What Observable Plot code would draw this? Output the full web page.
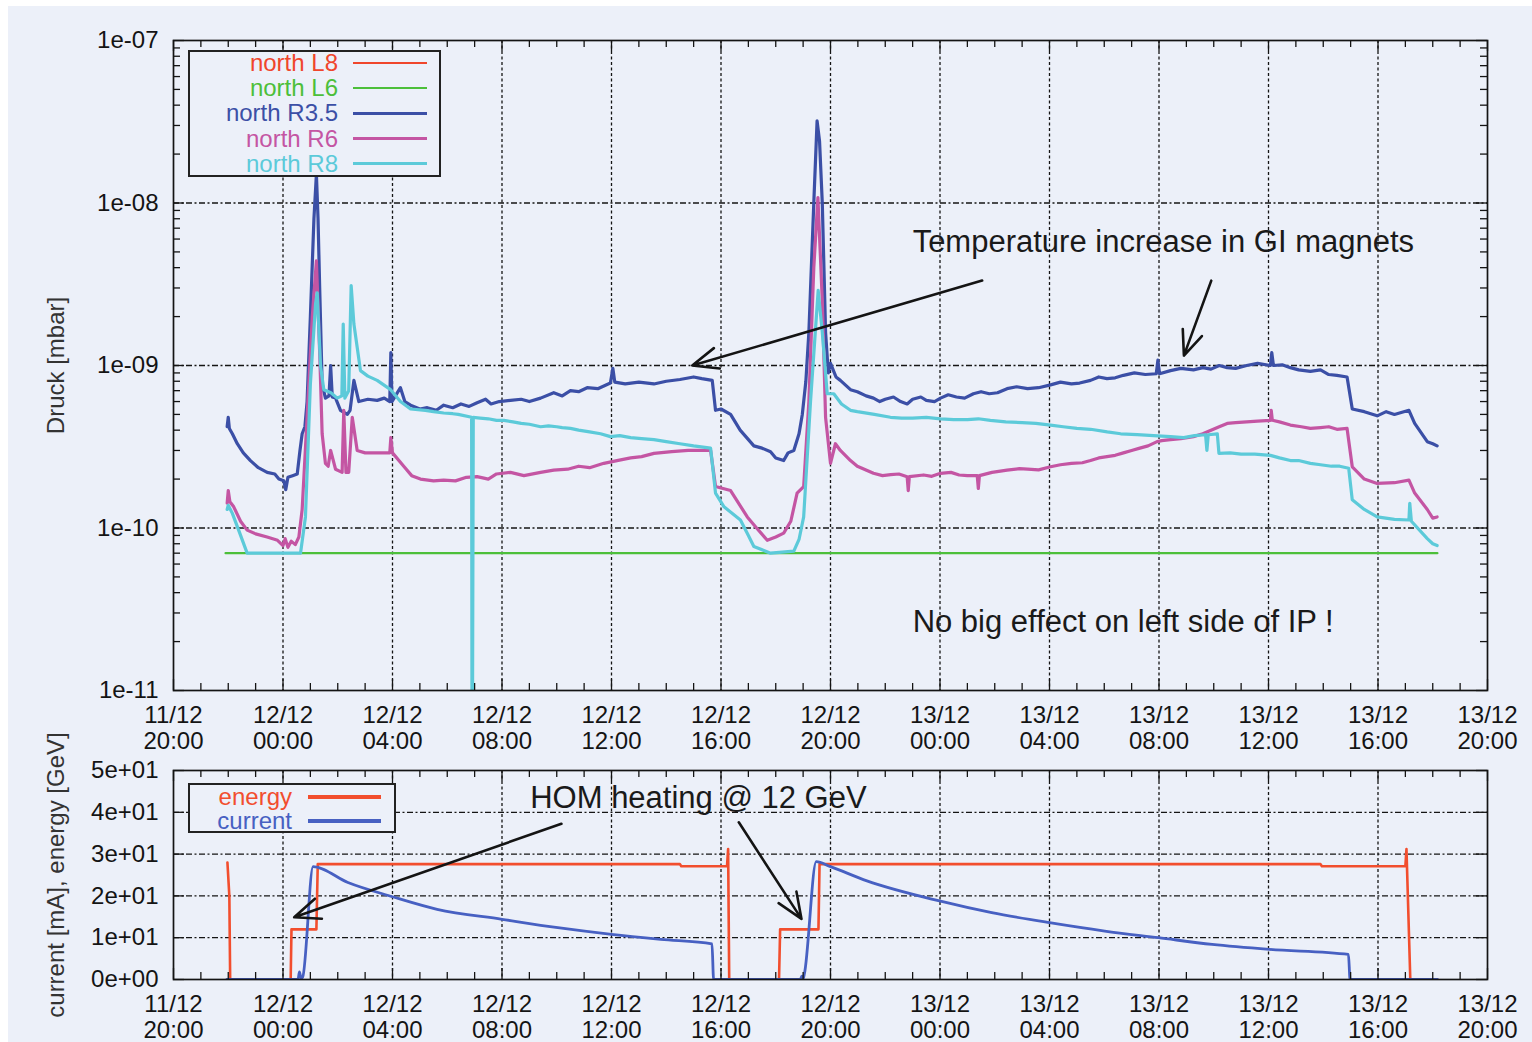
<!DOCTYPE html>
<html>
<head>
<meta charset="utf-8">
<script src="https://cdn.jsdelivr.net/npm/d3@7"></script>
<script src="https://cdn.jsdelivr.net/npm/@observablehq/plot@0.6"></script>
<style>
  html, body { margin: 0; padding: 0; background: #ffffff; }
  #page { position: relative; width: 1532px; height: 1042px; overflow: hidden; background: #ffffff;
          font-family: "Liberation Sans", Arial, Helvetica, sans-serif; }
  #panel { position: absolute; left: 8px; top: 6px; width: 1524px; height: 1036px; background: #ecf0f9; }
  #page svg { position: absolute; left: 0; overflow: visible; }
  .legend { position: absolute; border: 2px solid #222; box-sizing: border-box; background: #ecf0f9; }
  .legend .lab { position: absolute; text-align: right; font-size: 24px; line-height: 26px; height: 26px; white-space: nowrap; }
  .legend .smp { position: absolute; }
</style>
</head>
<body>
<div id="page"><div id="panel"></div></div>
<script>
// ---------------- data (hours after 11/12 20:00, value) ----------------
// north L8 is not visible in the picture (hidden under / below L6): legend entry only
const seriesNames = ["north L8", "north L6", "north R3.5", "north R6", "north R8"];
const seriesColors = ["#f0462c", "#4cbf3a", "#3b4fa6", "#c455a3", "#5ccad9"];

const northL6 = [[1.9, 7e-11], [46.17, 7e-11]];

const northR35 = [
  [1.96,4.2e-10],[2.00,4.8e-10],[2.04,4.1e-10],[2.15,3.8e-10],[2.33,3.3e-10],[2.55,2.9e-10],[2.81,2.6e-10],
  [3.10,2.35e-10],[3.42,2.2e-10],[3.70,2.15e-10],[3.85,2.0e-10],[4.03,1.95e-10],[4.10,1.72e-10],[4.18,2.05e-10],
  [4.35,2.1e-10],[4.52,2.15e-10],[4.62,3.0e-10],[4.70,3.8e-10],[4.80,4.2e-10],[4.88,6.0e-10],[5.00,2.0e-9],
  [5.13,8.0e-9],[5.22,1.5e-8],[5.28,8e-9],[5.34,3.0e-9],[5.43,7.7e-10],[5.55,6.3e-10],[5.68,6.5e-10],[5.74,1.0e-9],
  [5.80,6.4e-10],[5.92,6.3e-10],[6.10,5.3e-10],[6.35,5.0e-10],[6.45,5.3e-10],[6.59,8.1e-10],[6.77,6.0e-10],
  [7.10,6.2e-10],[7.44,6.1e-10],[7.70,6.3e-10],[7.90,6.0e-10],[7.94,1.2e-9],[7.98,6.0e-10],[8.29,7.3e-10],
  [8.45,6.0e-10],[8.66,5.7e-10],[9.00,5.4e-10],[9.27,5.5e-10],[9.60,5.3e-10],[9.87,5.7e-10],[10.20,5.5e-10],
  [10.50,5.8e-10],[10.80,5.6e-10],[11.09,5.9e-10],[11.40,6.2e-10],[11.60,5.8e-10],[11.90,6.0e-10],[12.31,6.1e-10],
  [12.70,6.2e-10],[13.00,6.0e-10],[13.41,6.3e-10],[13.89,6.8e-10],[14.20,6.5e-10],[14.50,7.0e-10],[14.80,6.9e-10],
  [15.11,7.3e-10],[15.50,7.2e-10],[15.96,7.8e-10],[16.05,9.6e-10],[16.12,7.9e-10],[16.50,7.7e-10],[17.00,7.9e-10],
  [17.55,7.7e-10],[18.00,8.0e-10],[18.50,8.2e-10],[19.00,8.5e-10],[19.30,8.3e-10],[19.68,8.1e-10],[19.80,5.3e-10],
  [20.00,5.4e-10],[20.35,5.0e-10],[20.70,4.0e-10],[21.20,3.2e-10],[21.50,3.1e-10],[21.81,2.95e-10],[22.00,2.7e-10],
  [22.29,2.6e-10],[22.45,2.9e-10],[22.66,3.0e-10],[22.85,3.8e-10],[22.97,5.0e-10],[23.10,8.0e-10],[23.21,1.6e-9],
  [23.39,1.0e-8],[23.51,3.2e-8],[23.60,2.4e-8],[23.70,1.0e-8],[23.82,1.6e-9],[23.92,9.0e-10],[24.00,1.03e-9],
  [24.20,8.5e-10],[24.36,8.1e-10],[24.73,7.1e-10],[24.98,6.9e-10],[25.30,6.5e-10],[25.57,6.3e-10],[25.80,6.0e-10],
  [26.00,6.2e-10],[26.30,6.4e-10],[26.56,6.0e-10],[26.80,5.8e-10],[27.00,6.2e-10],[27.30,6.4e-10],[27.50,6.1e-10],
  [27.80,6.0e-10],[28.02,6.3e-10],[28.30,6.6e-10],[28.60,6.4e-10],[28.90,6.3e-10],[29.22,6.7e-10],[29.50,6.9e-10],
  [29.80,6.7e-10],[30.10,6.8e-10],[30.45,7.2e-10],[30.80,7.4e-10],[31.20,7.2e-10],[31.60,7.3e-10],[32.04,7.6e-10],
  [32.40,7.9e-10],[32.80,7.7e-10],[33.10,7.8e-10],[33.50,8.1e-10],[33.80,8.5e-10],[34.10,8.3e-10],[34.40,8.4e-10],
  [34.70,8.7e-10],[35.10,9.0e-10],[35.50,8.8e-10],[35.90,8.9e-10],[35.96,1.08e-9],[36.02,8.9e-10],[36.42,9.3e-10],
  [36.80,9.6e-10],[37.26,9.4e-10],[37.60,9.7e-10],[37.90,9.5e-10],[38.20,1.0e-9],[38.49,9.7e-10],[38.80,9.6e-10],
  [39.20,1.0e-9],[39.60,1.03e-9],[40.07,1.0e-9],[40.12,1.2e-9],[40.18,1.0e-9],[40.50,1.01e-9],[40.80,9.7e-10],
  [41.10,9.4e-10],[41.53,9.2e-10],[41.90,9.4e-10],[42.20,8.8e-10],[42.50,8.7e-10],[42.87,8.5e-10],[43.06,5.4e-10],
  [43.50,5.2e-10],[43.97,4.9e-10],[44.30,5.2e-10],[44.60,5.0e-10],[45.13,5.3e-10],[45.34,4.4e-10],[45.80,3.4e-10],
  [46.00,3.3e-10],[46.16,3.2e-10]
];

const northR6 = [
  [1.96,1.42e-10],[2.00,1.7e-10],[2.06,1.45e-10],[2.20,1.35e-10],[2.45,1.1e-10],[2.69,9.7e-11],[3.00,9.2e-11],
  [3.42,8.8e-11],[3.80,8.4e-11],[4.00,7.8e-11],[4.08,8.6e-11],[4.18,7.6e-11],[4.30,8.3e-11],[4.45,7.9e-11],
  [4.58,8.8e-11],[4.70,1.3e-10],[4.88,4.8e-10],[5.07,2.0e-9],[5.22,4.4e-9],[5.34,1.2e-9],[5.43,3.8e-10],
  [5.55,2.5e-10],[5.65,2.4e-10],[5.74,3.0e-10],[5.92,2.3e-10],[6.16,2.2e-10],[6.22,5.3e-10],[6.30,2.2e-10],
  [6.40,2.2e-10],[6.53,4.8e-10],[6.71,3.0e-10],[7.00,2.9e-10],[7.44,2.9e-10],[7.90,2.9e-10],[7.94,3.6e-10],
  [8.00,2.9e-10],[8.41,2.4e-10],[8.70,2.1e-10],[9.02,2.0e-10],[9.50,1.95e-10],[9.87,1.97e-10],[10.30,1.95e-10],
  [10.70,2.05e-10],[11.09,2.07e-10],[11.50,2.0e-10],[11.80,2.15e-10],[12.31,2.2e-10],[12.80,2.1e-10],[13.41,2.2e-10],
  [13.89,2.27e-10],[14.40,2.3e-10],[14.80,2.4e-10],[15.20,2.35e-10],[15.72,2.5e-10],[16.20,2.6e-10],[16.70,2.7e-10],
  [17.10,2.75e-10],[17.55,2.88e-10],[18.20,2.95e-10],[18.80,3.0e-10],[19.62,3.0e-10],[19.80,1.8e-10],[20.35,1.7e-10],
  [20.96,1.17e-10],[21.30,1.0e-10],[21.69,8.4e-11],[22.00,8.8e-11],[22.29,9.3e-11],[22.55,1.1e-10],[22.78,1.64e-10],
  [23.02,1.8e-10],[23.21,6.0e-10],[23.39,4.0e-9],[23.54,1.08e-8],[23.70,2.5e-9],[23.82,4.8e-10],[24.00,2.5e-10],
  [24.18,3.3e-10],[24.36,3.0e-10],[24.73,2.6e-10],[24.98,2.4e-10],[25.57,2.17e-10],[25.90,2.1e-10],[26.20,2.13e-10],
  [26.50,2.15e-10],[26.80,2.07e-10],[26.84,1.7e-10],[26.88,2.07e-10],[27.40,2.12e-10],[27.70,2.08e-10],[28.02,2.17e-10],
  [28.40,2.2e-10],[28.70,2.12e-10],[29.00,2.1e-10],[29.36,2.1e-10],[29.40,1.75e-10],[29.44,2.1e-10],[29.90,2.2e-10],
  [30.45,2.27e-10],[30.90,2.32e-10],[31.20,2.3e-10],[31.60,2.28e-10],[32.04,2.38e-10],[32.40,2.45e-10],[32.80,2.5e-10],
  [33.20,2.52e-10],[33.50,2.6e-10],[33.80,2.7e-10],[34.10,2.75e-10],[34.40,2.8e-10],[34.70,2.9e-10],[35.00,3.0e-10],
  [35.30,3.1e-10],[35.60,3.2e-10],[35.93,3.4e-10],[36.10,3.45e-10],[36.42,3.5e-10],[36.80,3.55e-10],[37.26,3.65e-10],
  [37.60,3.8e-10],[37.90,4.0e-10],[38.20,4.2e-10],[38.49,4.4e-10],[38.80,4.45e-10],[39.20,4.5e-10],[39.60,4.55e-10],
  [40.07,4.6e-10],[40.10,5.3e-10],[40.14,4.6e-10],[40.40,4.5e-10],[40.80,4.3e-10],[41.20,4.2e-10],[41.53,4.1e-10],
  [41.90,4.15e-10],[42.20,4.2e-10],[42.50,4.05e-10],[42.87,4.1e-10],[43.06,2.38e-10],[43.50,2.0e-10],[43.97,1.88e-10],
  [44.60,1.9e-10],[45.13,1.97e-10],[45.34,1.64e-10],[45.80,1.3e-10],[46.00,1.15e-10],[46.16,1.17e-10]
];

const northR8 = [
  [1.96,1.3e-10],[2.00,1.38e-10],[2.15,1.23e-10],[2.40,9.5e-11],[2.69,7.0e-11],[4.64,7.0e-11],[4.82,1.17e-10],
  [5.00,7.7e-10],[5.19,2.4e-9],[5.25,2.8e-9],[5.37,1.0e-9],[5.49,7.1e-10],[5.75,6.8e-10],[5.98,6.3e-10],
  [6.15,6.5e-10],[6.20,1.8e-9],[6.26,6.3e-10],[6.40,7.0e-10],[6.49,3.1e-9],[6.59,1.8e-9],[6.83,9.3e-10],
  [7.10,8.6e-10],[7.44,8.1e-10],[7.93,7.1e-10],[8.29,6.0e-10],[8.66,5.4e-10],[9.20,5.3e-10],[9.50,5.2e-10],
  [9.87,5.1e-10],[10.20,5.05e-10],[10.40,5.0e-10],[10.89,4.8e-10],[10.91,1e-12],[10.95,4.8e-10],[11.20,4.75e-10],
  [11.50,4.7e-10],[11.80,4.6e-10],[12.07,4.6e-10],[12.40,4.5e-10],[12.70,4.4e-10],[13.00,4.35e-10],[13.41,4.2e-10],
  [13.70,4.25e-10],[14.00,4.2e-10],[14.20,4.15e-10],[14.50,4.1e-10],[14.80,4.0e-10],[15.20,3.9e-10],[15.60,3.8e-10],
  [15.96,3.65e-10],[16.30,3.7e-10],[16.70,3.6e-10],[17.10,3.55e-10],[17.55,3.5e-10],[18.00,3.4e-10],[18.50,3.3e-10],
  [19.00,3.2e-10],[19.62,3.1e-10],[19.80,1.64e-10],[20.11,1.35e-10],[20.71,1.12e-10],[21.00,9.0e-11],[21.20,7.7e-11],
  [21.81,7.0e-11],[22.66,7.2e-11],[22.85,8.5e-11],[23.02,1.17e-10],[23.27,6.0e-10],[23.55,2.9e-9],[23.70,1.6e-9],
  [23.88,6.7e-10],[24.12,6.7e-10],[24.40,5.8e-10],[24.73,5.3e-10],[24.98,5.2e-10],[25.60,5.0e-10],[26.19,4.8e-10],
  [26.60,4.75e-10],[27.00,4.75e-10],[27.50,4.8e-10],[28.02,4.7e-10],[28.50,4.65e-10],[29.00,4.65e-10],[29.40,4.7e-10],
  [29.84,4.6e-10],[30.40,4.5e-10],[31.00,4.45e-10],[31.50,4.4e-10],[32.04,4.3e-10],[32.50,4.2e-10],[33.00,4.1e-10],
  [33.50,4.05e-10],[34.11,3.9e-10],[34.60,3.8e-10],[35.20,3.75e-10],[35.80,3.7e-10],[36.42,3.65e-10],[36.90,3.6e-10],
  [37.30,3.7e-10],[37.70,3.75e-10],[37.75,3.0e-10],[37.80,3.75e-10],[38.13,3.8e-10],[38.19,2.88e-10],[38.60,2.9e-10],
  [39.00,2.85e-10],[39.50,2.85e-10],[40.07,2.8e-10],[40.40,2.7e-10],[40.80,2.6e-10],[41.10,2.6e-10],[41.53,2.5e-10],
  [41.90,2.45e-10],[42.30,2.4e-10],[42.60,2.4e-10],[42.93,2.33e-10],[43.06,1.49e-10],[43.50,1.3e-10],[43.97,1.17e-10],
  [44.60,1.13e-10],[45.13,1.12e-10],[45.16,1.42e-10],[45.22,1.1e-10],[45.80,8.6e-11],[46.00,8.0e-11],[46.16,7.8e-11]
];

const bottomNames = ["energy", "current"];
const bottomColors = ["#f24e2e", "#4760c2"];

const energy = [
  [1.97,28.0],[2.04,20],[2.07,0],[4.28,0],[4.31,12],[5.22,12],[5.27,27.6],[18.5,27.6],[18.55,27.1],
  [20.22,27.1],[20.26,31.2],[20.30,0],[22.12,0],[22.16,12],[23.56,12],[23.60,27.6],[41.9,27.6],[41.95,27.1],
  [45.00,27.1],[45.04,31.2],[45.18,0],[46.17,0]
];
const current = [
  [1.95,0],[4.55,0],[4.60,1.8],[4.66,0.3],[4.72,0.6],[5.10,27.0],[6.37,23.2],[8.0,19.8],[9.63,16.8],
  [12.0,14.4],[14.04,12.4],[16.0,10.8],[17.8,9.6],[19.67,8.5],[19.73,0],[22.9,0],[22.95,0.8],[23.0,0.2],
  [23.05,1.5],[23.48,28.2],[24.0,27.0],[25.33,23.6],[27.98,18.8],[29.89,16.0],[32.0,13.6],[34.02,11.6],
  [35.98,10.0],[37.94,8.4],[40.04,7.2],[42.92,6.0],[42.98,0],[46.17,0]
];

// ticks and labels
const xTickHours = [0, 4, 8, 12, 16, 20, 24, 28, 32, 36, 40, 44, 48];
const xTickLabels = ["11/12\n20:00","12/12\n00:00","12/12\n04:00","12/12\n08:00","12/12\n12:00","12/12\n16:00",
  "12/12\n20:00","13/12\n00:00","13/12\n04:00","13/12\n08:00","13/12\n12:00","13/12\n16:00","13/12\n20:00"];
const yTopTicks = [1e-11, 1e-10, 1e-9, 1e-8, 1e-7];
const yTopLabels = ["1e-11", "1e-10", "1e-09", "1e-08", "1e-07"];
const yBotTicks = [0, 10, 20, 30, 40, 50];
const yBotLabels = ["0e+00", "1e+01", "2e+01", "3e+01", "4e+01", "5e+01"];
const yTopTitle = "Druck [mbar]";
const yBotTitle = "current [mA], energy [GeV]";

// annotations (data coordinates)
const topNotes = [
  {t: 27.0, v: 5.73e-9, text: "Temperature increase in GI magnets"},
  {t: 27.0, v: 2.63e-11, text: "No big effect on left side of IP !"}
];
const topArrows = [
  {t1: 29.54, v1: 3.33e-9, t2: 18.95, v2: 1.0e-9},
  {t1: 37.91, v1: 3.33e-9, t2: 36.91, v2: 1.15e-9}
];
const botNotes = [{t: 13.03, v: 43.3, text: "HOM heating @ 12 GeV"}];
const botArrows = [
  {t1: 14.17, v1: 37.25, t2: 4.41, v2: 14.9},
  {t1: 20.65, v1: 37.6, t2: 22.94, v2: 14.5}
];

// ---------------- helpers ----------------
const T0 = Date.UTC(2011, 11, 11, 20, 0);
const hr = (h) => new Date(T0 + h * 3600000);
const FONT = '"Liberation Sans", Arial, Helvetica, sans-serif';
const INK = "#141414";
const xMinorHours = d3.range(0, 49).filter(h => h % 4 !== 0);
const xInnerGrid = xTickHours.slice(1, -1);
const yTopMinor = [];
for (let k = -11; k <= -8; k++) for (let m = 2; m <= 9; m++) yTopMinor.push(m * Math.pow(10, k));
const xTickData = xTickHours.map((h, i) => ({h, label: xTickLabels[i]}));
const yTopTickData = yTopTicks.map((v, i) => ({v, label: yTopLabels[i]}));
const yBotTickData = yBotTicks.map((v, i) => ({v, label: yBotLabels[i]}));

const W = 1532, ML = 173, MR = 45;
const frameW = W - ML - MR;

function axisMarks(frameH, yMajor, yMinor) {
  const tickStyle = {stroke: INK, strokeWidth: 1.3};
  return [
    Plot.tickX(xMinorHours, {x: hr, insetTop: frameH - 7, ...tickStyle}),
    Plot.tickX(xMinorHours, {x: hr, insetBottom: frameH - 7, ...tickStyle}),
    Plot.tickX(xTickHours, {x: hr, insetTop: frameH - 11, ...tickStyle}),
    Plot.tickX(xTickHours, {x: hr, insetBottom: frameH - 11, ...tickStyle}),
    Plot.tickY(yMajor, {y: d => d, insetRight: frameW - 11, ...tickStyle}),
    Plot.tickY(yMajor, {y: d => d, insetLeft: frameW - 11, ...tickStyle}),
    ...(yMinor ? [
      Plot.tickY(yMinor, {y: d => d, insetRight: frameW - 7, ...tickStyle}),
      Plot.tickY(yMinor, {y: d => d, insetLeft: frameW - 7, ...tickStyle})
    ] : []),
    Plot.text(xTickData, {x: d => hr(d.h), frameAnchor: "bottom", dy: 14, lineAnchor: "top",
      text: "label", lineHeight: 1.08, fontSize: 24, fill: INK})
  ];
}

const lineOpts = (color, w, curve = "linear") => ({x: d => hr(d[0]), y: d => d[1], stroke: color, strokeWidth: w,
  strokeLinejoin: "round", clip: true, curve});

// ---------------- top plot ----------------
const topH = 760, topFrameH = 650;
const topPlot = Plot.plot({
  width: W, height: topH, marginLeft: ML, marginRight: MR, marginTop: 40, marginBottom: topH - 40 - topFrameH,
  x: {type: "utc", domain: [hr(0), hr(48)], axis: null},
  y: {type: "log", domain: [1e-11, 1e-7], axis: null},
  style: {background: "transparent", fontFamily: FONT, fontSize: "24px", overflow: "visible"},
  marks: [
    Plot.ruleX(xInnerGrid, {x: hr, stroke: INK, strokeWidth: 1.3, strokeDasharray: "3,2.5"}),
    Plot.ruleY([1e-10, 1e-9, 1e-8], {y: d => d, stroke: INK, strokeWidth: 1.3, strokeDasharray: "6,2.5,2,2.5"}),
    Plot.line(northL6, lineOpts(seriesColors[1], 2.2)),
    Plot.line(northR35, lineOpts(seriesColors[2], 3.2)),
    Plot.line(northR6, lineOpts(seriesColors[3], 3.2)),
    Plot.line(northR8, lineOpts(seriesColors[4], 3.2)),
    ...axisMarks(topFrameH, yTopTicks, yTopMinor),
    Plot.text(yTopTickData, {y: "v", frameAnchor: "left", dx: -15, textAnchor: "end", text: "label", fontSize: 24, fill: INK}),
    Plot.text([yTopTitle], {frameAnchor: "left", dx: -117, rotate: -90, textAnchor: "middle", text: d => d, fontSize: 24, fill: "#333"}),
    Plot.arrow(topArrows, {x1: d => hr(d.t1), y1: "v1", x2: d => hr(d.t2), y2: "v2", stroke: INK,
      strokeWidth: 2.6, headLength: 16, headAngle: 45}),
    Plot.text(topNotes, {x: d => hr(d.t), y: "v", text: "text", textAnchor: "start", fontSize: 31, fill: "#1a1a1a"}),
    Plot.frame({stroke: INK, strokeWidth: 1.7})
  ]
});
topPlot.style.top = "0px";

// ---------------- bottom plot ----------------
const botTop = 760, botH = 282, botFrameH = 209;
const botPlot = Plot.plot({
  width: W, height: botH, marginLeft: ML, marginRight: MR, marginTop: 10, marginBottom: botH - 10 - botFrameH,
  x: {type: "utc", domain: [hr(0), hr(48)], axis: null},
  y: {type: "linear", domain: [0, 50], axis: null},
  style: {background: "transparent", fontFamily: FONT, fontSize: "24px", overflow: "visible"},
  marks: [
    Plot.ruleX(xInnerGrid, {x: hr, stroke: INK, strokeWidth: 1.3, strokeDasharray: "3,2.5"}),
    Plot.ruleY([10, 20, 30, 40], {y: d => d, stroke: INK, strokeWidth: 1.3, strokeDasharray: "6,2.5,2,2.5"}),
    Plot.line(energy, lineOpts(bottomColors[0], 2.6)),
    Plot.line(current, lineOpts(bottomColors[1], 2.8, "monotone-x")),
    ...axisMarks(botFrameH, yBotTicks, null),
    Plot.text(yBotTickData, {y: "v", frameAnchor: "left", dx: -15, textAnchor: "end", text: "label", fontSize: 24, fill: INK}),
    Plot.text([yBotTitle], {frameAnchor: "left", dx: -117, rotate: -90, textAnchor: "middle", text: d => d, fontSize: 24, fill: "#333"}),
    Plot.arrow(botArrows, {x1: d => hr(d.t1), y1: "v1", x2: d => hr(d.t2), y2: "v2", stroke: INK,
      strokeWidth: 2.6, headLength: 16, headAngle: 45}),
    Plot.text(botNotes, {x: d => hr(d.t), y: "v", text: "text", textAnchor: "start", fontSize: 31, fill: "#1a1a1a"}),
    Plot.frame({stroke: INK, strokeWidth: 1.7})
  ]
});
botPlot.style.top = botTop + "px";

const page = document.getElementById("page");
page.appendChild(topPlot);
page.appendChild(botPlot);

// ---------------- legends (HTML overlays) ----------------
function makeLegend(names, colors, widths, box, textRight, lineX1, lineX2, firstRow, rowStep) {
  const div = document.createElement("div");
  div.className = "legend";
  Object.assign(div.style, {left: box[0] + "px", top: box[1] + "px", width: box[2] + "px", height: box[3] + "px"});
  names.forEach((name, i) => {
    const cy = firstRow + i * rowStep;
    const lab = document.createElement("div");
    lab.className = "lab";
    lab.textContent = name;
    Object.assign(lab.style, {left: "0px", width: textRight + "px", top: (cy - 13) + "px", color: colors[i]});
    div.appendChild(lab);
    const smp = document.createElement("div");
    smp.className = "smp";
    Object.assign(smp.style, {left: lineX1 + "px", width: (lineX2 - lineX1) + "px",
      top: (cy - widths[i] / 2) + "px", height: widths[i] + "px", background: colors[i]});
    div.appendChild(smp);
  });
  page.appendChild(div);
}
makeLegend(seriesNames, seriesColors, [2, 2, 3, 3, 3], [188, 50, 253, 127], 148, 163, 237, 11, 25.2);
makeLegend(bottomNames, bottomColors, [3.5, 3.5], [188, 783, 208, 50], 102, 118, 191, 12, 24);
</script>
</body>
</html>
